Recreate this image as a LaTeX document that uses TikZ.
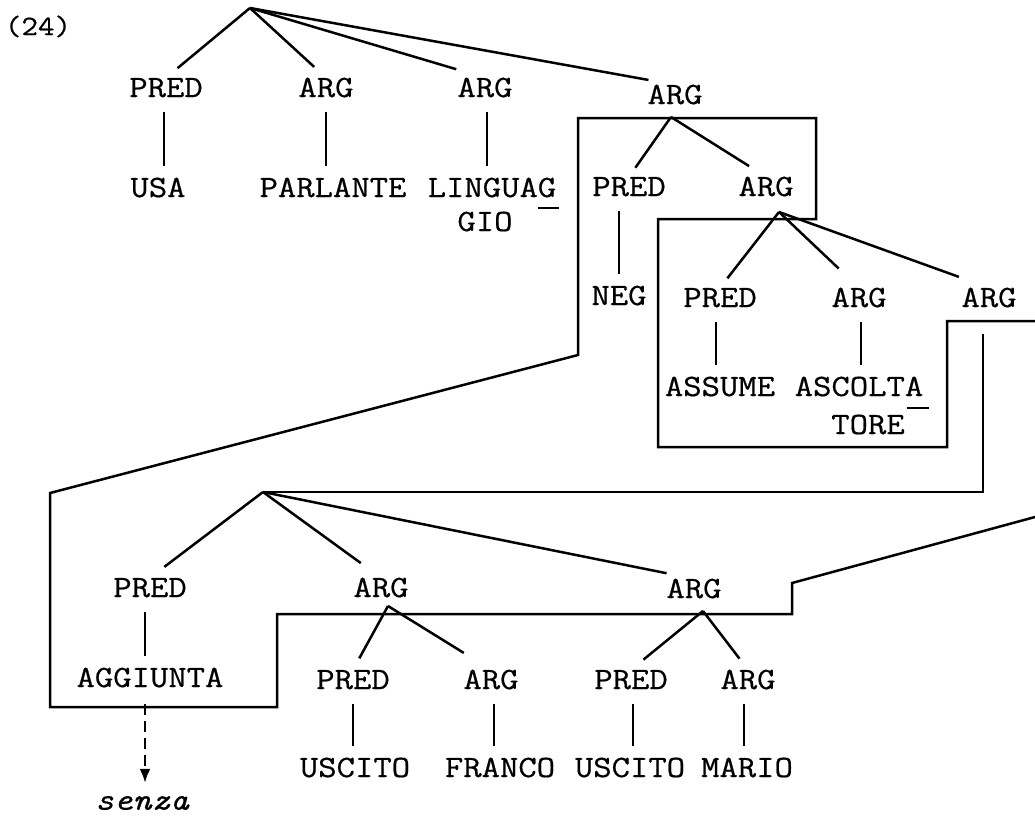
\documentclass[tikz,border=0pt]{standalone}
\usepackage{fontspec}
\setmonofont{Latin Modern Mono}[FakeStretch=1.15,FakeBold=0.6]
\usetikzlibrary{arrows.meta}
\begin{document}
\begin{tikzpicture}[x=1pt,y=-1pt,
  line width=2.5pt, line join=miter, line cap=butt,
  font=\ttfamily\fontsize{31}{36}\selectfont,
  lab/.style={inner sep=0pt, text height=18pt, text depth=0pt},
  stem/.style={shorten <=14pt, shorten >=12pt},
  dasharrow/.style={dash pattern=on 11pt off 6pt, -{Latex[length=14pt,width=11pt]}},
  ul/.style={line width=2pt}]
\useasboundingbox (0,0) rectangle (1035,817);

% example number
\node[lab, font=\ttfamily\fontsize{28}{32}\selectfont] (num) at (38,26) {(24)};

% ---------- upper tree ----------
\coordinate (A0) at (250,8);
\node[lab] (pA) at (166,88) {PRED};
\node[lab] (aA) at (326,88) {ARG};
\node[lab] (aB) at (485,88) {ARG};
\node[lab] (aC) at (675,95) {ARG};
\node[lab] (usa) at (158,188) {USA};
\node[lab] (parlante) at (333,188) {PARLANTE};
\node[lab] (linguag) at (492,188) {LINGUAG};
\node[lab] (gio) at (485,222) {GIO};

\draw[shorten >=15pt] (A0) -- (pA.north);
\draw[shorten >=16pt] (A0) -- (aA.north);
\draw[shorten >=30pt] (A0) -- (aB.north);
\draw[shorten >=27pt] (A0) -- (aC.north);
\draw[stem] ([xshift=-2pt]pA.south) -- ([xshift=-2pt]pA.south |- usa.north);
\draw[stem] (aA.south) -- (aA.south |- parlante.north);
\draw[stem] ([xshift=2pt]aB.south) -- ([xshift=2pt]aB.south |- linguag.north);
\draw[ul] ([shift={(-20pt,-10pt)}]linguag.south east) -- ++(21,0);

% subtree under the fourth argument
\coordinate (A1) at (671,117);
\node[lab] (pD) at (629,187) {PRED};
\node[lab] (aD) at (766,187) {ARG};
\node[lab] (neg) at (619,296) {NEG};
\draw[shorten >=11pt] (A1) -- (pD.north);
\draw[shorten >=20pt] (A1) -- (aD.north);
\draw[stem] (neg.north |- pD.south) -- (neg.north);

\coordinate (A2) at (779,212);
\node[lab] (pE) at (720,298) {PRED};
\node[lab] (aE) at (859,298) {ARG};
\node[lab] (aF) at (989,298) {ARG};
\node[lab] (assume) at (720,387) {ASSUME};
\node[lab] (ascolta) at (859,387) {ASCOLTA};
\node[lab] (tore) at (868,425) {TORE};
\draw[shorten >=12pt] (A2) -- (pE.north);
\draw[shorten >=28pt] (A2) -- (aE.north);
\draw[shorten >=32pt] (A2) -- (aF.north);
\draw[stem] ([xshift=-4pt]pE.south) -- ([xshift=-4pt]pE.south |- assume.north);
\draw[stem] ([xshift=2pt]aE.south) -- ([xshift=2pt]aE.south |- ascolta.north);
\draw[ul] ([shift={(-18pt,-11pt)}]ascolta.south east) -- ++(22,0);

% ---------- lower tree ----------
\coordinate (A3) at (263,492);
\node[lab] (pG) at (150,588) {PRED};
\node[lab] (aG) at (381,588) {ARG};
\node[lab] (aH) at (694,589) {ARG};
\node[lab] (aggiunta) at (150,678) {AGGIUNTA};
\node[inner sep=0pt, font=\ttfamily\fontsize{31}{36}\selectfont\itshape] (senza) at (142,803) {senza};
\draw[shorten >=18pt] (A3) -- (pG.north);
\draw[shorten >=25pt] (A3) -- (aG.north);
\draw[shorten >=28pt] (A3) -- (aH.north);
\draw[stem] ([xshift=-5pt]pG.south) -- ([xshift=-5pt]pG.south |- aggiunta.north);
\draw[dasharrow, shorten <=16pt, shorten >=12pt] ([xshift=-5pt]aggiunta.south) -- ([xshift=-5pt]aggiunta.south |- senza.north);

% link from the last argument above to the lower tree
\draw[shorten <=26pt] ([xshift=-6pt]aF.south) |- (A3);

\coordinate (A4) at (388,606);
\coordinate (A5) at (703,611);
\node[lab] (pI) at (353,680) {PRED};
\node[lab] (aI) at (491,680) {ARG};
\node[lab] (pJ) at (631,680) {PRED};
\node[lab] (aJ) at (748,680) {ARG};
\node[lab] (uscitoA) at (355,768) {USCITO};
\node[lab] (franco) at (500,768) {FRANCO};
\node[lab] (uscitoB) at (630,768) {USCITO};
\node[lab] (mario) at (747,768) {MARIO};
\draw[shorten >=13pt] (A4) -- (pI.north);
\draw[shorten >=32pt] (A4) -- (aI.north);
\draw[shorten >=16pt] (A5) -- (pJ.north);
\draw[shorten >=14pt] (A5) -- (aJ.north);
\draw[stem] (pI.south) -- (pI.south |- uscitoA.north);
\draw[stem] ([xshift=3pt]aI.south) -- ([xshift=3pt]aI.south |- franco.north);
\draw[stem] ([xshift=2pt]pJ.south) -- ([xshift=2pt]pJ.south |- uscitoB.north);
\draw[stem] ([xshift=-4pt]aJ.south) -- ([xshift=-4pt]aJ.south |- mario.north);

% ---------- enclosing outline ----------
\draw (1035,321) -- (947,321) -- (947,447) -- (658,447) -- (658,219)
  -- (816,219) -- (816,118) -- (578,118) -- (578,355) -- (50,493)
  -- (50,707) -- (277,707) -- (277,614) -- (792,614) -- (792,583)
  -- (1035,517);
\end{tikzpicture}
\end{document}
